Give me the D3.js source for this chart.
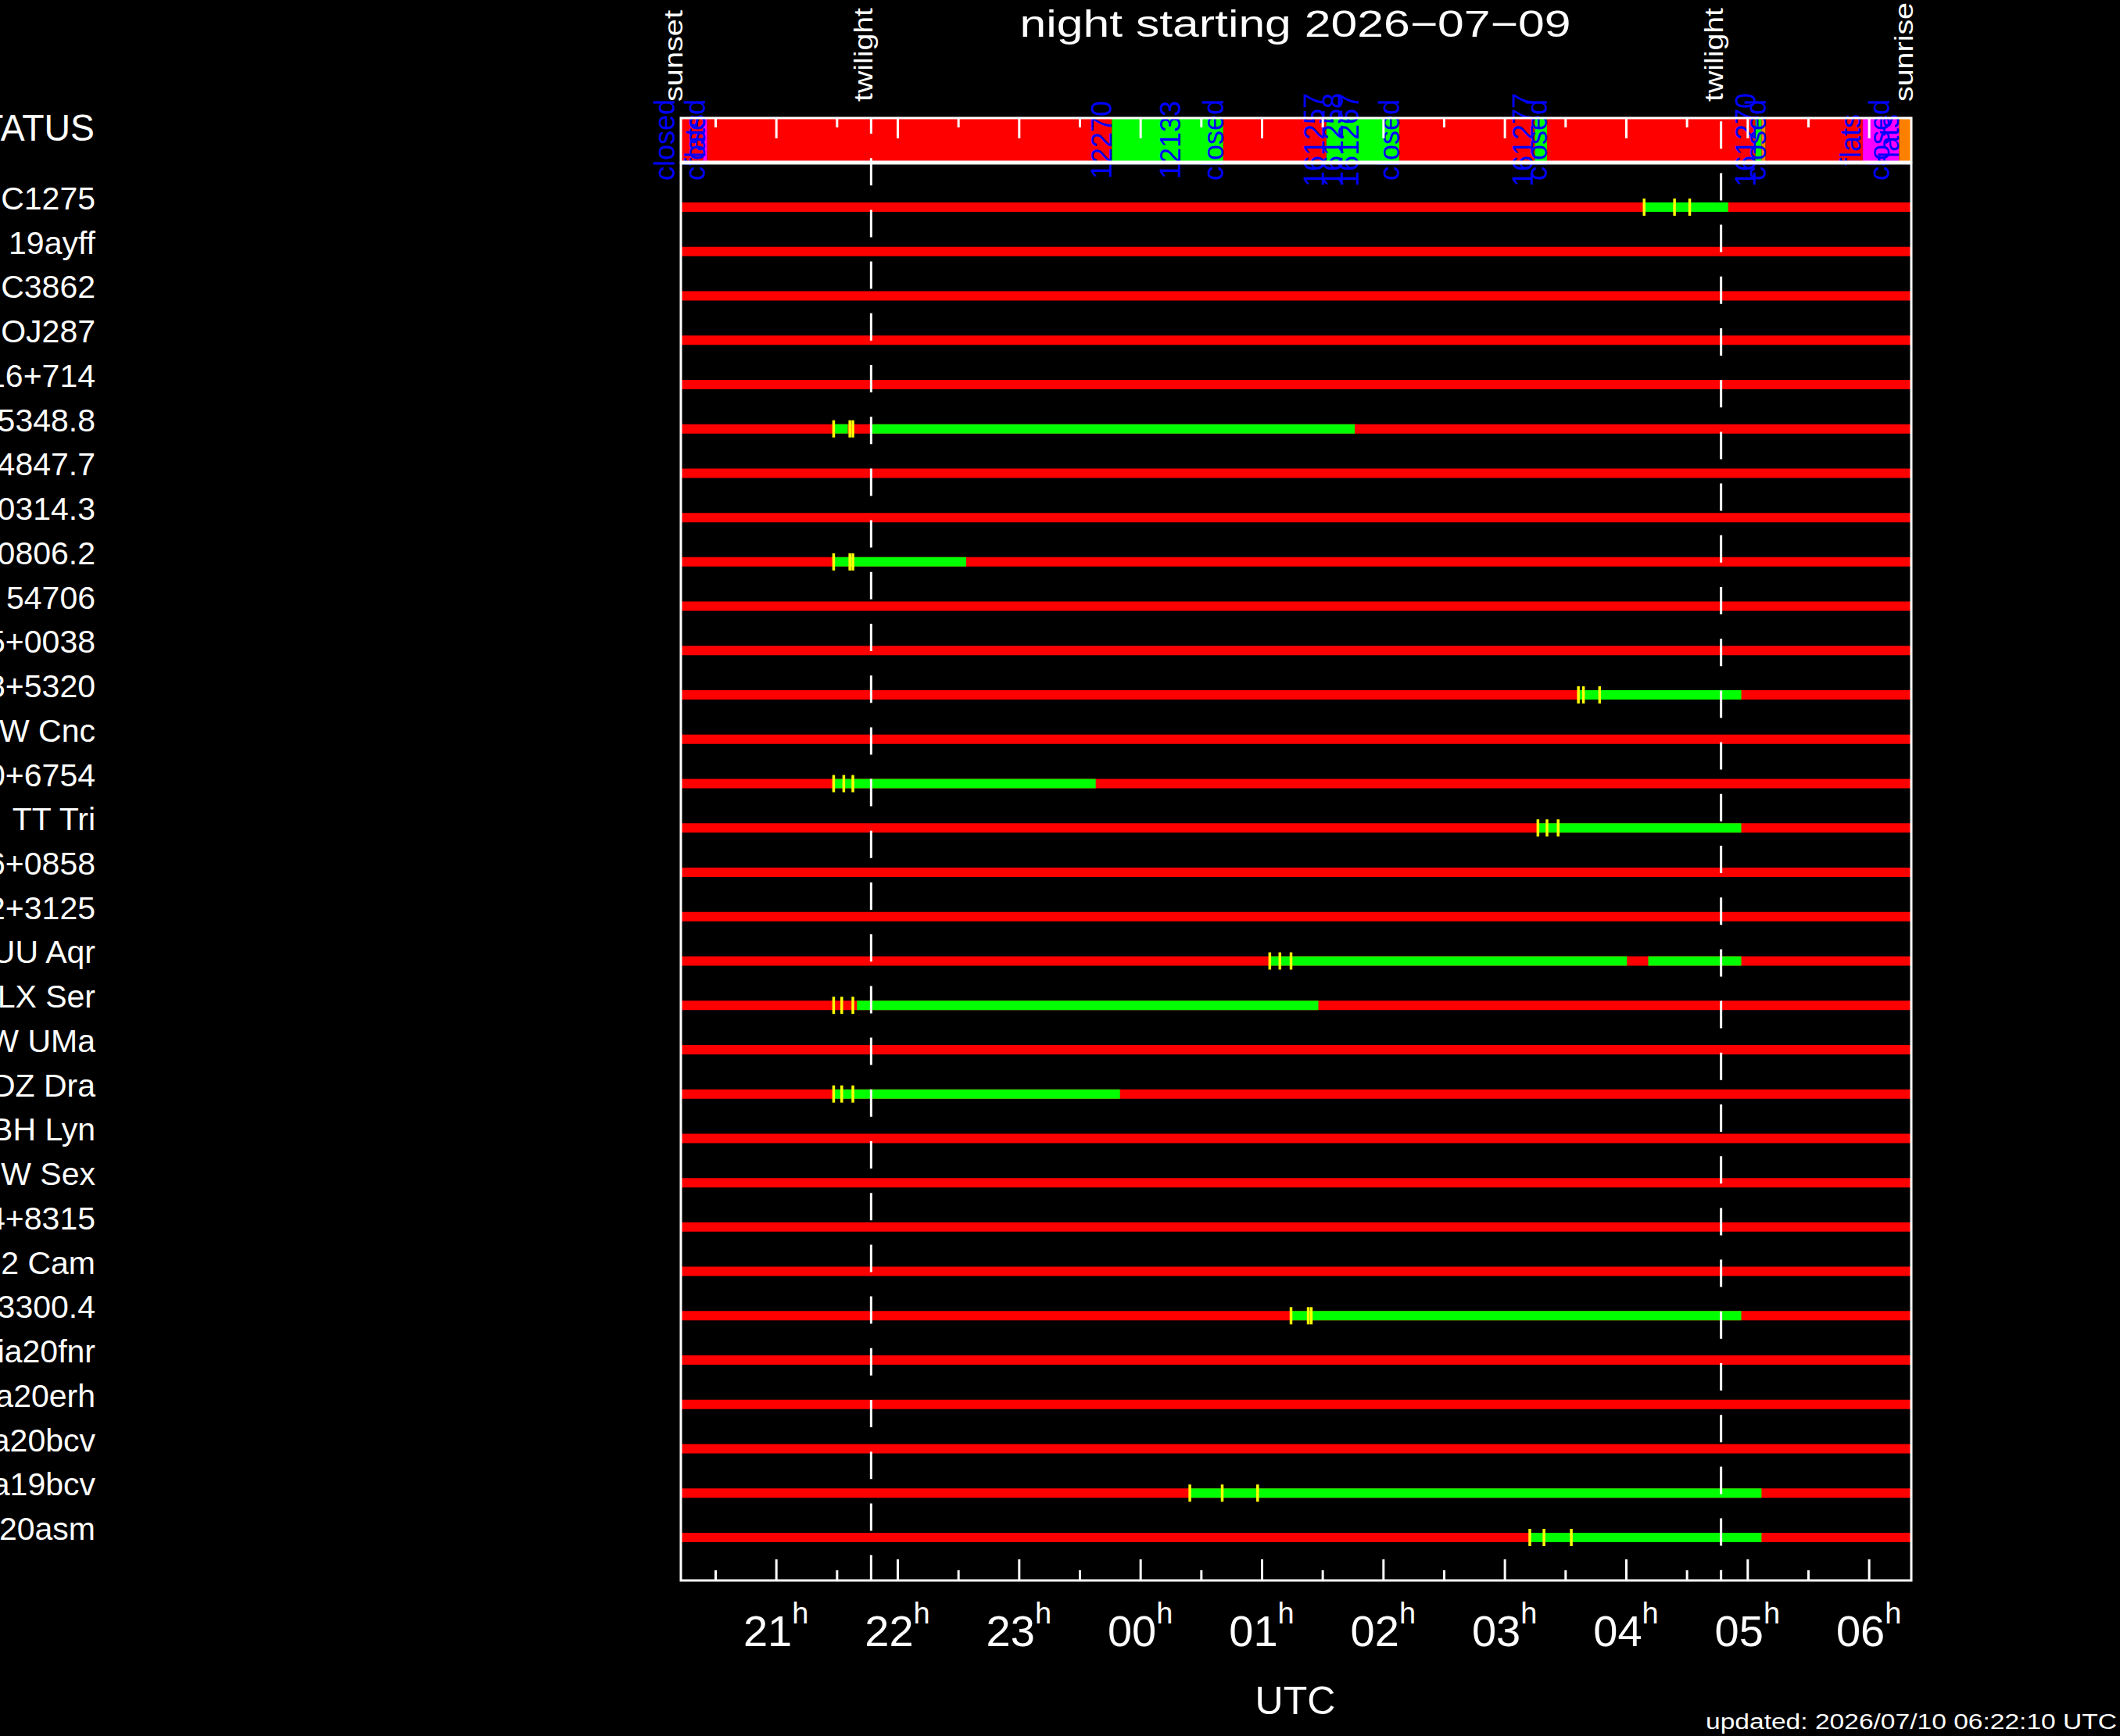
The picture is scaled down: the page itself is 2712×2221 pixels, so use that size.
<!DOCTYPE html>
<html>
<head>
<meta charset="utf-8">
<script src="https://cdn.jsdelivr.net/npm/d3@7"></script>
<style>
  body { margin: 0; background: #000; }
  svg text { font-family: "Liberation Sans", Arial, sans-serif; }
</style>
</head>
<body>
<div id="chart"></div>
<script>
const title = "night starting 2026\u221207\u221209"
const updated = "updated: 2026/07/10 06:22:10 UTC"
const sunset = "20:13"
const sunrise = "06:21"
const twilights = ["21:47", "04:47"]

const targets = [
  "NGC1275", "AT 19ayff", "NGC3862", "OJ287", "S5 0716+714", "J015348.8",
  "J134847.7", "PBC J0314.3", "PBC J0806.2", "TIC 54706", "J1215+0038",
  "J0958+5320", "RW Cnc", "J1730+6754", "TT Tri", "J2116+0858", "J1832+3125",
  "UU Aqr", "LX Ser", "SW UMa", "DZ Dra", "BH Lyn", "SW Sex", "J0344+8315",
  "V1062 Cam", "J0403300.4", "Gaia20fnr", "Gaia20erh", "Gaia20bcv",
  "Gaia19bcv", "Gaia20asm"
]

// dome / telescope status along the night
const statusStarts = ["20:13", "20:24", "20:26", "23:46", "00:41", "01:32", "02:08",
  "03:15", "03:21", "05:04", "05:07", "05:09", "05:57", "06:15"]
const statusColors = ["#ff0000", "#ff00ff", "#ff0000", "#00ff00", "#ff0000", "#00ff00", "#ff0000",
  "#00ff00", "#ff0000", "#00ff00", "#ff8000", "#ff0000", "#ff00ff", "#ff8000"]

const eventTimes = ["20:10", "20:25", "20:25", "23:46", "00:20", "00:41", "01:31", "01:40",
  "01:48", "02:08", "03:14", "03:21", "05:04", "05:09", "05:56", "06:10", "06:15"]
const eventLabels = ["closed", "flats", "closed", "12270", "12133", "closed", "161257", "161258",
  "161267", "closed", "161277", "closed", "161270", "closed", "flats", "closed", "flats"]

// observable windows per target
const windows = [
  ["NGC1275", "04:09", "04:50:30"],
  ["J015348.8", "21:28:30", "21:35:30"],
  ["J015348.8", "21:46:30", "01:46"],
  ["PBC J0806.2", "21:28:30", "22:34"],
  ["J0958+5320", "03:36:30", "04:57"],
  ["J1730+6754", "21:28:30", "23:38"],
  ["TT Tri", "03:16:30", "04:57"],
  ["UU Aqr", "01:04", "04:00:30"],
  ["UU Aqr", "04:11", "04:57"],
  ["LX Ser", "21:40", "01:28"],
  ["DZ Dra", "21:28:30", "23:50"],
  ["J0403300.4", "01:14:30", "04:57"],
  ["Gaia19bcv", "00:24:30", "05:07"],
  ["Gaia20asm", "03:12:30", "05:07"]
]

// exposures taken
const exposures = [
  ["NGC1275", ["04:09", "04:24", "04:31:30"]],
  ["J015348.8", ["21:28:30", "21:36:30", "21:38"]],
  ["PBC J0806.2", ["21:28:30", "21:36:30", "21:38"]],
  ["J0958+5320", ["03:36:30", "03:39", "03:47"]],
  ["J1730+6754", ["21:28:30", "21:33:30", "21:38"]],
  ["TT Tri", ["03:16:30", "03:21", "03:26:30"]],
  ["UU Aqr", ["01:04", "01:09", "01:14:30"]],
  ["LX Ser", ["21:28:30", "21:32:30", "21:38"]],
  ["DZ Dra", ["21:28:30", "21:32:30", "21:38"]],
  ["J0403300.4", ["01:14:30", "01:23", "01:24:30"]],
  ["Gaia19bcv", ["00:24:30", "00:40:30", "00:58"]],
  ["Gaia20asm", ["03:12:30", "03:19:30", "03:33"]]
]

const hourLabels = ["21", "22", "23", "00", "01", "02", "03", "04", "05", "06"]

function toDate(s) {
  const [h, m, sec] = s.split(":").map(Number)
  const day = h >= 12 ? 9 : 10
  return new Date(Date.UTC(2026, 6, day, h, m, sec || 0))
}

const W = 2712, H = 2221
const left = 871, right = 2445
const statusTop = 151, statusBottom = 207
const plotTop = 209, plotBottom = 2022

const svg = d3.select("#chart").append("svg")
  .attr("width", W)
  .attr("height", H)
  .style("background", "#000")
  .style("display", "block")

const x = d3.scaleUtc()
  .domain([toDate(sunset), toDate(sunrise)])
  .range([left, right])

const y = d3.scalePoint()
  .domain(targets)
  .range([265, 1967])

// title
svg.append("text")
  .attr("x", 1657).attr("y", 47)
  .attr("text-anchor", "middle")
  .attr("font-size", 48)
  .attr("textLength", 705)
  .attr("lengthAdjust", "spacingAndGlyphs")
  .attr("fill", "#fff")
  .text(title)

// status bar
const segEnds = statusStarts.slice(1).concat([sunrise])
svg.append("g").selectAll("rect")
  .data(statusStarts).join("rect")
  .attr("x", d => x(toDate(d)))
  .attr("width", (d, i) => x(toDate(segEnds[i])) - x(toDate(d)))
  .attr("y", statusTop)
  .attr("height", statusBottom - statusTop)
  .attr("fill", (d, i) => statusColors[i])

svg.append("g").selectAll("text")
  .data(eventTimes).join("text")
  .attr("transform", d => `translate(${x(toDate(d))},${(statusTop + statusBottom) / 2}) rotate(-90)`)
  .attr("text-anchor", "middle")
  .attr("font-size", 36)
  .attr("fill", "#0000ff")
  .text((d, i) => eventLabels[i])

svg.append("text")
  .attr("x", 121).attr("y", 180)
  .attr("text-anchor", "end")
  .attr("font-size", 48)
  .attr("textLength", 176)
  .attr("lengthAdjust", "spacingAndGlyphs")
  .attr("fill", "#fff")
  .text("STATUS")

// sunset / twilight / sunrise labels
const sunLabels = [
  [sunset, "sunset", 117],
  [twilights[0], "twilight", 120],
  [twilights[1], "twilight", 120],
  [sunrise, "sunrise", 127]
]
svg.append("g").selectAll("text")
  .data(sunLabels).join("text")
  .attr("transform", d => `translate(${x(toDate(d[0])) + 2},130) rotate(-90)`)
  .attr("font-size", 34)
  .attr("textLength", d => d[2])
  .attr("lengthAdjust", "spacingAndGlyphs")
  .attr("fill", "#fff")
  .text(d => d[1])

// target rows
svg.append("g").selectAll("line")
  .data(targets).join("line")
  .attr("x1", left).attr("x2", right)
  .attr("y1", d => y(d)).attr("y2", d => y(d))
  .attr("stroke", "#ff0000")
  .attr("stroke-width", 12)

svg.append("g").selectAll("line")
  .data(windows).join("line")
  .attr("x1", d => x(toDate(d[1]))).attr("x2", d => x(toDate(d[2])))
  .attr("y1", d => y(d[0])).attr("y2", d => y(d[0]))
  .attr("stroke", "#00ff00")
  .attr("stroke-width", 12)

const ticks = exposures.flatMap(([t, times]) => times.map(s => ({ t, s })))
svg.append("g").selectAll("line")
  .data(ticks).join("line")
  .attr("x1", d => x(toDate(d.s))).attr("x2", d => x(toDate(d.s)))
  .attr("y1", d => y(d.t) - 11).attr("y2", d => y(d.t) + 11)
  .attr("stroke", "#ffff00")
  .attr("stroke-width", 3.5)

svg.append("g").selectAll("text")
  .data(targets).join("text")
  .attr("x", 122)
  .attr("y", d => y(d) + 3)
  .attr("text-anchor", "end")
  .attr("font-size", 41)
  .attr("fill", "#fff")
  .text(d => d)

// twilight dashed lines
const dashPhase = [15, 62]
svg.append("g").selectAll("line")
  .data(twilights).join("line")
  .attr("x1", d => x(toDate(d))).attr("x2", d => x(toDate(d)))
  .attr("y1", statusTop).attr("y2", plotBottom)
  .attr("stroke", "#fff")
  .attr("stroke-width", 3)
  .attr("stroke-dasharray", "35,31.2")
  .attr("stroke-dashoffset", (d, i) => dashPhase[i])

// axes ticks
const hours = hourLabels.map(h => toDate(h + ":00"))
const halves = x.ticks(d3.utcMinute.every(30)).filter(d => d.getUTCMinutes() === 30)

function tickAxis(axis, ty) {
  svg.append("g")
    .attr("transform", `translate(0,${ty})`)
    .attr("color", "#fff")
    .call(axis.tickFormat(""))
    .call(g => g.select(".domain").remove())
    .call(g => g.selectAll("line").attr("stroke-width", 3))
}
tickAxis(d3.axisBottom(x).tickValues(hours).tickSize(26), statusTop)
tickAxis(d3.axisBottom(x).tickValues(halves).tickSize(12), statusTop)
tickAxis(d3.axisTop(x).tickValues(hours).tickSize(27), plotBottom)
tickAxis(d3.axisTop(x).tickValues(halves).tickSize(13), plotBottom)

// frames
svg.append("rect")
  .attr("x", left).attr("y", statusTop)
  .attr("width", right - left).attr("height", statusBottom - statusTop)
  .attr("fill", "none").attr("stroke", "#fff").attr("stroke-width", 3)
svg.append("rect")
  .attr("x", left).attr("y", plotTop)
  .attr("width", right - left).attr("height", plotBottom - plotTop)
  .attr("fill", "none").attr("stroke", "#fff").attr("stroke-width", 3)

// hour labels
const hl = svg.append("g").selectAll("text")
  .data(hourLabels).join("text")
  .attr("x", d => x(toDate(d + ":00")))
  .attr("y", 2106)
  .attr("text-anchor", "middle")
  .attr("font-size", 56)
  .attr("fill", "#fff")
hl.append("tspan").text(d => d)
hl.append("tspan").attr("font-size", 38).attr("dy", -29).text("h")

svg.append("text")
  .attr("x", 1657).attr("y", 2193)
  .attr("text-anchor", "middle")
  .attr("font-size", 50)
  .attr("fill", "#fff")
  .text("UTC")

svg.append("text")
  .attr("x", 2708).attr("y", 2212)
  .attr("text-anchor", "end")
  .attr("font-size", 27)
  .attr("textLength", 526)
  .attr("lengthAdjust", "spacingAndGlyphs")
  .attr("fill", "#fff")
  .text(updated)
</script>
</body>
</html>
